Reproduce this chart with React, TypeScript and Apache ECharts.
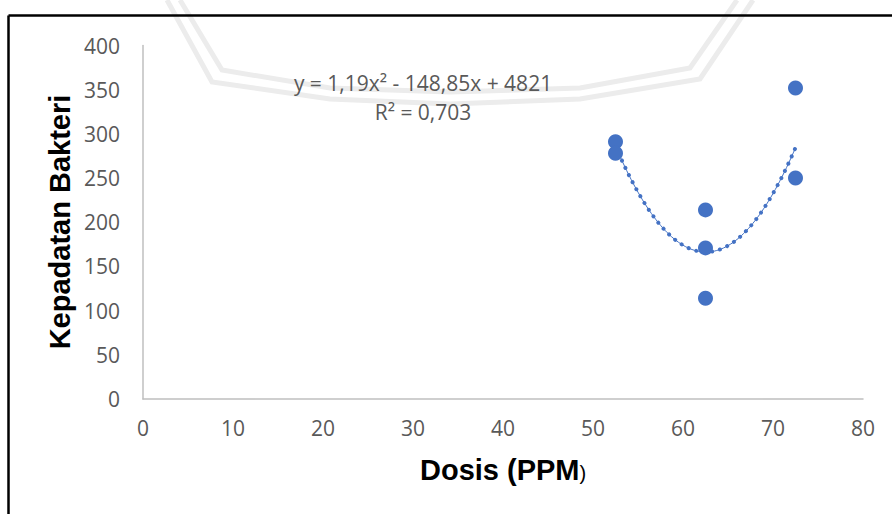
import React, { useEffect, useRef } from "react";
import * as echarts from "echarts";

const DOSIS = [52.5, 52.5, 62.5, 62.5, 62.5, 72.5, 72.5];
const KEPADATAN = [291, 278, 214, 171, 114, 352, 250];
const TREND_COEF = [1.19, -148.85, 4821]; // a, b, c of y = a x^2 + b x + c
const TREND_RANGE = [52.5, 72.5];
const EQUATION = "y = 1,19x² - 148,85x + 4821";
const R2_TEXT = "R² = 0,703";
const X_TITLE = "Dosis (PPM";
const Y_TITLE = "Kepadatan Bakteri";

const BLUE = "#4472C4";
const GRAY = "#595959";
const FONT = "'Open Sans', sans-serif";
const BOLD = "'Liberation Sans', Arial, sans-serif";

export default function App() {
  const ref = useRef<HTMLDivElement>(null);
  useEffect(() => {
    if (!ref.current) return;
    const chart = echarts.init(ref.current, null, { renderer: "svg" });
    const points = DOSIS.map((x, i) => [x, KEPADATAN[i]]);
    const trend: number[][] = [];
    const steps = 80;
    for (let i = 0; i <= steps; i++) {
      const x = TREND_RANGE[0] + ((TREND_RANGE[1] - TREND_RANGE[0]) * i) / steps;
      trend.push([x, TREND_COEF[0] * x * x + TREND_COEF[1] * x + TREND_COEF[2]]);
    }
    const wm = { stroke: "#ececec", lineWidth: 5, fill: "none" };
    chart.setOption({
      animation: false,
      backgroundColor: "#ffffff",
      grid: { left: 143, right: 29, top: 45.5, bottom: 115 },
      xAxis: {
        type: "value",
        min: 0,
        max: 80,
        interval: 10,
        axisLine: { show: true, lineStyle: { color: "#BFBFBF", width: 1.5 } },
        axisTick: { show: false },
        splitLine: { show: false },
        axisLabel: { color: GRAY, fontFamily: FONT, fontSize: 21, margin: 18 },
      },
      yAxis: {
        type: "value",
        min: 0,
        max: 400,
        interval: 50,
        axisLine: { show: true, lineStyle: { color: "#BFBFBF", width: 1.5 } },
        axisTick: { show: false },
        splitLine: { show: false },
        axisLabel: { color: GRAY, fontFamily: FONT, fontSize: 21, margin: 23 },
      },
      graphic: [
        { type: "polyline", z: -10, silent: true, shape: { points: [[180, 0], [222, 70], [330, 88], [450, 92], [580, 88], [690, 68], [737, 0]] }, style: wm },
        { type: "polyline", z: -10, silent: true, shape: { points: [[167, 0], [212, 82], [330, 99], [450, 104], [580, 99], [700, 79], [753, 0]] }, style: wm },
        { type: "line", z: 50, shape: { x1: 8.5, y1: 15.5, x2: 892, y2: 15.5 }, style: { stroke: "#000", lineWidth: 2.5 } },
        { type: "line", z: 50, shape: { x1: 8.5, y1: 15.5, x2: 8.5, y2: 514 }, style: { stroke: "#000", lineWidth: 2.5 } },
        {
          type: "text", x: 423, y: 83, z: 20,
          style: { text: EQUATION, fill: GRAY, font: `21px ${FONT}`, align: "center", verticalAlign: "middle" },
        },
        {
          type: "text", x: 423, y: 112, z: 20,
          style: { text: R2_TEXT, fill: GRAY, font: `21px ${FONT}`, align: "center", verticalAlign: "middle" },
        },
        {
          type: "text", x: 60, y: 222, rotation: Math.PI / 2, z: 20,
          style: { text: Y_TITLE, fill: "#000", font: `bold 29px ${BOLD}`, align: "center", verticalAlign: "middle" },
        },
        {
          type: "text", x: 420, y: 470, z: 20,
          style: {
            text: `{b|${X_TITLE}}{n|)}`,
            align: "left",
            verticalAlign: "middle",
            rich: {
              b: { fontFamily: BOLD, fontWeight: "bold", fontSize: 29, fill: "#000", color: "#000" },
              n: { fontFamily: BOLD, fontSize: 20, fill: "#000", color: "#000", padding: [6, 0, 0, 0] },
            },
          },
        },
      ],
      series: [
        {
          type: "line",
          data: trend,
          showSymbol: false,
          smooth: false,
          lineStyle: { color: BLUE, width: 1 },
          z: 3,
        },
        {
          type: "line",
          data: trend,
          showSymbol: false,
          lineStyle: { color: BLUE, width: 4, type: [0.01, 8], cap: "round" },
          z: 3,
        },
        {
          type: "scatter",
          data: points,
          symbol: "circle",
          symbolSize: 15,
          itemStyle: { color: BLUE, opacity: 1 },
          z: 5,
        },
      ],
    });
    return () => chart.dispose();
  }, []);
  return (
    <div
      ref={ref}
      style={{ position: "fixed", left: 0, top: 0, width: 892, height: 514 }}
    />
  );
}
